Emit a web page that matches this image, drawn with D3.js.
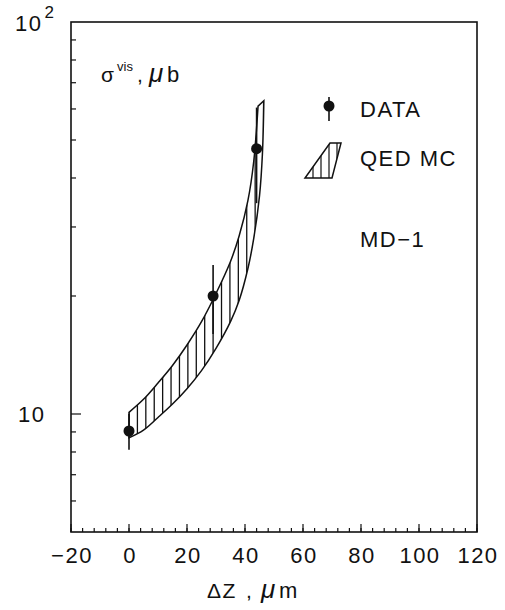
<!DOCTYPE html>
<html><head><meta charset="utf-8">
<script src="https://cdn.jsdelivr.net/npm/d3@7"></script>
<style>body{margin:0;background:#fff}svg{display:block}text{font-family:"Liberation Sans",Arial,sans-serif;fill:#111}</style>
</head><body>
<svg id="c" width="505" height="610"></svg>
<script>
// ---- data ----
const xTickLabels = [-20, 0, 20, 40, 60, 80, 100, 120];
const dataX = [0, 29, 44];
const dataY = [9.05, 20, 47.5];
const dataErr = [0.95, 4, 13];
const mcUpperX = [0, 5, 10, 15, 20, 25, 30, 35, 38, 41, 43, 44.5];
const mcUpperY = [10.1, 10.9, 12.0, 13.3, 15.0, 17.2, 20.3, 24.5, 28.5, 35, 44, 61];
const mcLowerX = [0, 5, 10, 15, 20, 25, 30, 35, 38, 41, 43, 45, 46, 46.5];
const mcLowerY = [8.7, 9.1, 9.8, 10.6, 11.6, 12.9, 14.7, 17.2, 19.5, 23.5, 28, 36, 46, 63];

// ---- layout ----
const L = 71, R = 477, T = 22, B = 532;
const svg = d3.select("#c");
const x = d3.scaleLinear().domain([-20, 120]).range([L, R]);
const y = d3.scaleLog().domain([5, 100]).range([B, T]);

// band
const upper = mcUpperX.map((v, i) => [x(v), y(mcUpperY[i])]);
const lower = mcLowerX.map((v, i) => [x(v), y(mcLowerY[i])]);
const ln = d3.line().curve(d3.curveCatmullRom);
const bandPath = ln(upper) + "L" + ln(lower.slice().reverse()).slice(1) + "Z";

svg.append("clipPath").attr("id", "bandClip").append("path").attr("d", bandPath);
const hatchX = d3.range(0, 47, 2.9);
svg.append("g").attr("clip-path", "url(#bandClip)")
  .selectAll("line").data(hatchX).join("line")
  .attr("x1", d => x(d)).attr("x2", d => x(d))
  .attr("y1", T).attr("y2", B)
  .attr("stroke", "#111").attr("stroke-width", 1.3);
svg.append("path").attr("d", bandPath).attr("fill", "none")
  .attr("stroke", "#111").attr("stroke-width", 1.5);

// data points
const pts = svg.append("g");
dataX.forEach((d, i) => {
  pts.append("line").attr("x1", x(d)).attr("x2", x(d))
    .attr("y1", y(dataY[i] + dataErr[i])).attr("y2", y(dataY[i] - dataErr[i]))
    .attr("stroke", "#111").attr("stroke-width", 1.6);
  pts.append("circle").attr("cx", x(d)).attr("cy", y(dataY[i])).attr("r", 5.5).attr("fill", "#111");
});

// frame
svg.append("rect").attr("x", L).attr("y", T).attr("width", R - L).attr("height", B - T)
  .attr("fill", "none").attr("stroke", "#111").attr("stroke-width", 1.6);

// x ticks (inward)
const xMinor = d3.range(-20, 121, 4);
svg.append("g").selectAll("line").data(xMinor).join("line")
  .attr("x1", d => x(d)).attr("x2", d => x(d))
  .attr("y1", B).attr("y2", B - 4).attr("stroke", "#111").attr("stroke-width", 1.2);
svg.append("g").selectAll("line").data(xTickLabels).join("line")
  .attr("x1", d => x(d)).attr("x2", d => x(d))
  .attr("y1", B).attr("y2", B - 8).attr("stroke", "#111").attr("stroke-width", 1.2);
svg.append("g").selectAll("text").data(xTickLabels).join("text")
  .attr("x", d => x(d) + 1).attr("y", 563).attr("text-anchor", "middle")
  .attr("font-size", 22).attr("letter-spacing", 1.5)
  .text(d => d < 0 ? "\u2212" + Math.abs(d) : d);

// y ticks (inward, left)
const yMinor = [6, 7, 8, 9, 20, 30, 40, 50, 60, 70, 80, 90];
svg.append("g").selectAll("line").data(yMinor).join("line")
  .attr("x1", L).attr("x2", L + 5)
  .attr("y1", d => y(d)).attr("y2", d => y(d)).attr("stroke", "#111").attr("stroke-width", 1.2);
svg.append("line").attr("x1", L).attr("x2", L + 10).attr("y1", y(10)).attr("y2", y(10))
  .attr("stroke", "#111").attr("stroke-width", 1.2);
svg.append("text").attr("x", 18).attr("y", y(10) + 8)
  .attr("font-size", 22).attr("letter-spacing", 1.5).text("10");
const t2 = svg.append("text").attr("x", 15).attr("y", 31).attr("font-size", 22).attr("letter-spacing", 1.5);
t2.append("tspan").text("10");
t2.append("tspan").attr("dx", 2).attr("dy", -13).attr("font-size", 17).text("2");

// axis titles
const yt = svg.append("g").attr("font-size", 21);
yt.append("text").attr("x", 101).attr("y", 82).text("\u03c3");
yt.append("text").attr("x", 117).attr("y", 71).attr("font-size", 13).text("vis");
yt.append("text").attr("x", 137).attr("y", 82).text(",");
yt.append("text").attr("x", 149).attr("y", 82).attr("font-size", 26).attr("font-style", "italic").text("\u03bc");
yt.append("text").attr("x", 167).attr("y", 82).attr("font-size", 22).text("b");

const xt = svg.append("g").attr("font-size", 21);
xt.append("text").attr("x", 207).attr("y", 598).attr("letter-spacing", 1.5).text("\u0394Z");
xt.append("text").attr("x", 246).attr("y", 598).text(",");
xt.append("text").attr("x", 261).attr("y", 598).attr("font-size", 26).attr("font-style", "italic").text("\u03bc");
xt.append("text").attr("x", 279).attr("y", 598).attr("font-size", 22).text("m");

// legend
svg.append("line").attr("x1", 329).attr("x2", 329).attr("y1", 97).attr("y2", 121)
  .attr("stroke", "#111").attr("stroke-width", 1.6);
svg.append("circle").attr("cx", 329).attr("cy", 106).attr("r", 5.5).attr("fill", "#111");
svg.append("text").attr("x", 360).attr("y", 117).attr("font-size", 22).attr("letter-spacing", 1.5).text("DATA");

const para = [[330, 143], [341, 143], [332, 178], [305, 178]];
svg.append("clipPath").attr("id", "legClip").append("polygon").attr("points", para.join(" "));
svg.append("g").attr("clip-path", "url(#legClip)").selectAll("line")
  .data([313, 321, 329, 337]).join("line")
  .attr("x1", d => d).attr("x2", d => d).attr("y1", 140).attr("y2", 180)
  .attr("stroke", "#111").attr("stroke-width", 1.2);
svg.append("polygon").attr("points", para.join(" ")).attr("fill", "none")
  .attr("stroke", "#111").attr("stroke-width", 1.5);
svg.append("text").attr("x", 360).attr("y", 166).attr("font-size", 22).attr("letter-spacing", 1.5).text("QED MC");
svg.append("text").attr("x", 360).attr("y", 247).attr("font-size", 22).attr("letter-spacing", 1.5).text("MD\u22121");
</script>
</body></html>
